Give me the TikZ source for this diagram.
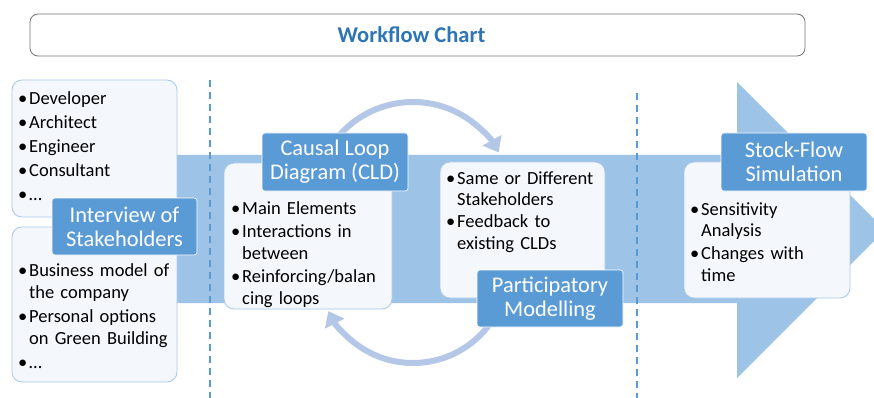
\documentclass[tikz,border=0pt]{standalone}
\usepackage{fontspec}
\setmainfont{Carlito}
\usetikzlibrary{arrows.meta}
\definecolor{band}{HTML}{9DC3E6}
\definecolor{arcc}{HTML}{B4C7E7}
\definecolor{headc}{HTML}{5B9BD5}
\definecolor{boxfill}{HTML}{F4F7FB}
\definecolor{boxline}{HTML}{A9C8E8}
\definecolor{titlec}{HTML}{2E75B6}
\definecolor{dashc}{HTML}{5B9BD5}
\newcommand{\bl}[1]{\par\hangindent=11pt\hangafter=1\noindent\strut\makebox[11pt][l]{\textbullet}#1\strut}
\tikzset{
  contentbox/.style={draw=boxline, line width=0.8pt, fill=boxfill, rounded corners=10pt, inner sep=0pt},
  headbox/.style={draw=white, line width=0.6pt, fill=headc, rounded corners=3pt, text=white, align=center,
    inner sep=0pt, minimum width=146pt, minimum height=58pt, font=\fontsize{22.4}{24}\selectfont},
  btext/.style={anchor=north west, inner sep=0pt, text width=178pt, align=left},
  vdash/.style={draw=dashc, line width=1.5pt, dash pattern=on 7pt off 5pt},
  looparrow/.style={draw=arcc, line width=6pt, -{Triangle[length=14pt,width=21pt]}}
}
\begin{document}
\begin{tikzpicture}[x=1pt,y=-1pt]
\useasboundingbox (0,0) rectangle (874,398);
\clip (0,0) rectangle (874,398);
\fill[white] (0,0) rectangle (874,398);

% title
\node[draw=black!55, line width=0.8pt, rounded corners=8pt, minimum width=775pt, minimum height=42pt,
  inner sep=0pt, text=titlec, font=\fontsize{22.5}{24}\selectfont\bfseries] (title) at (417.5,35) {\hspace*{-12pt}Workflow Chart};

% big arrow
\fill[band] (160,155) -- (737,155) -- (737,82) -- (885,230) -- (737,378) -- (737,303) -- (160,303) -- cycle;

% dashed separators
\coordinate (d1a) at (210,80);
\coordinate (d1b) at (210,398);
\coordinate (d2a) at (637,93);
\coordinate (d2b) at (637,398);
\draw[vdash] (d1a) -- (d1b);
\draw[vdash] (d2a) -- (d2b);

% loop arrows
\coordinate (topc) at (413,200);
\coordinate (botc) at (413,268);
\draw[looparrow] ([shift={(215:98)}]topc) arc[start angle=215, end angle=331, radius=98];
\draw[looparrow] ([shift={(35:95)}]botc) arc[start angle=35, end angle=153, radius=95];

% content boxes
\node[contentbox, minimum width=165pt, minimum height=137pt] (ltop) at (94.5,148.5) {};
\node[contentbox, minimum width=165pt, minimum height=155pt] (lbot) at (94.5,304.5) {};
\node[contentbox, minimum width=168pt, minimum height=146pt] (cldc) at (308,236) {};
\node[contentbox, minimum width=165pt, minimum height=136pt] (partc) at (522.5,230) {};
\node[contentbox, minimum width=166pt, minimum height=136pt] (stockc) at (767,230) {};

% content texts
\node[btext, font=\fontsize{18.5}{22}\selectfont] (ltoptxt) at (18,80.6) {\setlength{\parskip}{2pt}%
\bl{Developer}\bl{Architect}\bl{Engineer}\bl{Consultant}\bl{…}\par};
\node[btext, font=\fontsize{18.5}{22.5}\selectfont] (lbottxt) at (18,252.5) {\setlength{\parskip}{1pt}%
\bl{Business model of\newline the company}\bl{Personal options\newline on Green Building}\bl{…}\par};
\node[btext, font=\fontsize{18.5}{22}\selectfont] (cldtxt) at (231,191.6) {\setlength{\parskip}{1pt}%
\bl{Main Elements}\bl{Interactions in\newline between}\bl{Reinforcing/balan\newline cing loops}\par};
\node[btext, font=\fontsize{18.5}{21.5}\selectfont] (parttxt) at (446,161.95) {\setlength{\parskip}{0.5pt}%
\bl{Same or Different\newline Stakeholders}\bl{Feedback to\newline existing CLDs}\par};
\node[btext, font=\fontsize{18.5}{21.5}\selectfont] (stocktxt) at (690,191.95) {\setlength{\parskip}{1.5pt}%
\bl{Sensitivity\newline Analysis}\bl{Changes with\newline time}\par};

% heading boxes
\node[headbox, minimum width=145pt, minimum height=57pt] (interview) at (124.5,226.5) {Interview of\\Stakeholders};
\node[headbox] (cld) at (335,162) {Causal Loop\\Diagram (CLD)};
\node[headbox, minimum height=57pt] (part) at (550,298.5) {Participatory\\Modelling};
\node[headbox] (stock) at (794,162) {Stock-Flow\\Simulation};
\end{tikzpicture}
\end{document}
